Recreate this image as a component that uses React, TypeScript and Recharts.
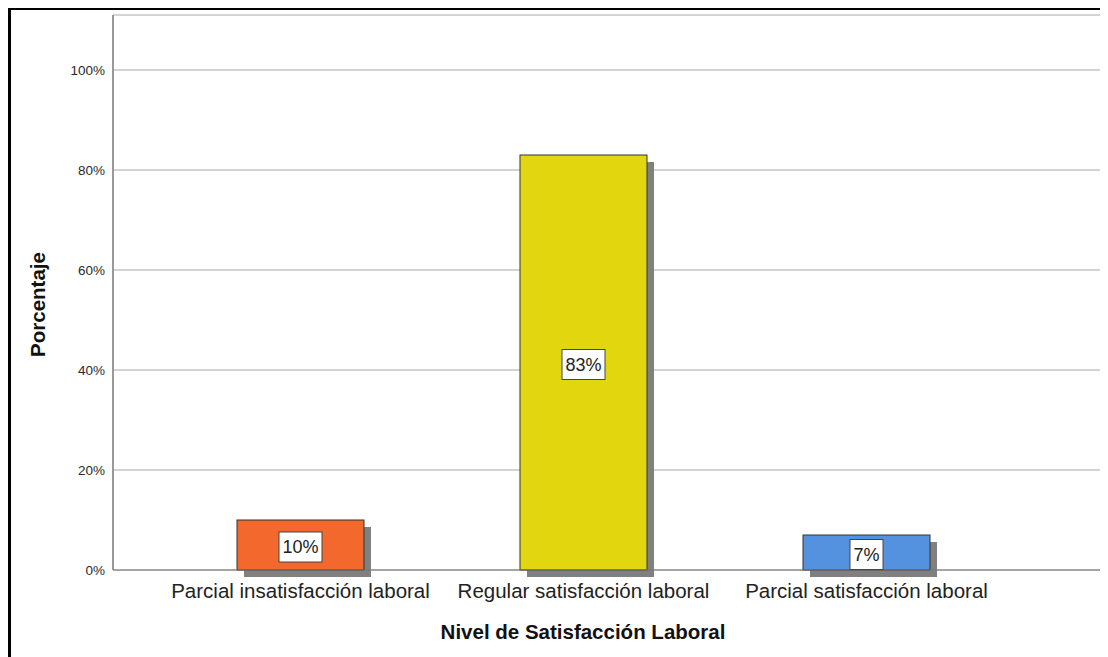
import { BarChart, Bar, XAxis, YAxis, CartesianGrid, Cell, LabelList, Label } from 'recharts';

// Nivel de satisfacción laboral, porcentaje de encuestados
const categories = ['Parcial insatisfacción laboral', 'Regular satisfacción laboral', 'Parcial satisfacción laboral'];
const percentages = [10, 83, 7];
const barColors = ['#F2682D', '#E2D70F', '#5492DF'];
const yTicks = [0, 20, 40, 60, 80, 100];

const data = categories.map((name, i) => ({ name, value: percentages[i] }));

const FONT = '"Liberation Sans", Arial, sans-serif';
const SHADOW = 7;

// bar with a flat grey drop shadow behind it
const ShadowBar = (props: any) => {
  const { x, y, width, height, fill } = props;
  return (
    <g>
      <rect x={x + SHADOW} y={y + SHADOW} width={width} height={height} fill="#808080" />
      <rect x={x} y={y} width={width} height={height} fill={fill} stroke="#333" strokeWidth={1} />
    </g>
  );
};

// boxed percentage label in the middle of each bar
const BoxLabel = (props: any) => {
  const { x, y, width, height, value } = props;
  const text = `${Math.round(value)}%`;
  const w = 13 + 10 * text.length;
  const h = 30;
  const cx = x + width / 2;
  const cy = y + height / 2 + 2;
  return (
    <g>
      <rect x={cx - w / 2} y={cy - h / 2} width={w} height={h} fill="#fff" stroke="#444" strokeWidth={1} />
      <text x={cx} y={cy + 6} textAnchor="middle" fontSize={18} fontFamily={FONT} fill="#222">
        {text}
      </text>
    </g>
  );
};

const YTitle = (props: any) => {
  const { viewBox } = props;
  const x = 45 - 11;
  const y = viewBox.y + viewBox.height / 2 + 12;
  return (
    <text
      x={x}
      y={y}
      transform={`rotate(-90, ${x}, ${y})`}
      textAnchor="middle"
      fontSize={20.5}
      fontWeight="bold"
      fontFamily={FONT}
      fill="#111"
    >
      Porcentaje
    </text>
  );
};

const XTitle = () => (
  <text x={583 - 11} y={639 - 10} textAnchor="middle" fontSize={20.5} fontWeight="bold" fontFamily={FONT} fill="#111">
    Nivel de Satisfacción Laboral
  </text>
);

export default function App() {
  return (
    <div
      style={{
        width: 1097,
        height: 647,
        borderTop: '2px solid #000',
        borderLeft: '3px solid #000',
        background: '#fff',
      }}
    >
      <BarChart width={1097} height={647} data={data} margin={{ top: 5, right: 4, left: 0, bottom: 0 }}>
        <CartesianGrid vertical={false} stroke="#c4c4c4" strokeWidth={1.5} />
        <YAxis
          domain={[0, 111]}
          ticks={yTicks}
          width={102}
          tickFormatter={(v: number) => `${v}%`}
          tick={{ fontSize: 13.5, fontFamily: FONT, fill: '#2a2a2a' }}
          tickLine={false}
          tickSize={0}
          tickMargin={8}
          axisLine={{ stroke: '#999', strokeWidth: 2 }}
        >
          <Label content={YTitle} />
        </YAxis>
        <XAxis
          dataKey="name"
          height={87}
          padding={{ left: 46, right: 96 }}
          tick={{ fontSize: 20.5, fontFamily: FONT, fill: '#222' }}
          tickLine={false}
          tickSize={0}
          tickMargin={13}
          axisLine={{ stroke: '#777', strokeWidth: 1 }}
        >
          <Label content={XTitle} />
        </XAxis>
        <Bar dataKey="value" barSize={127} shape={ShadowBar} isAnimationActive={false}>
          {data.map((d, i) => (
            <Cell key={d.name} fill={barColors[i]} />
          ))}
          <LabelList dataKey="value" content={BoxLabel} />
        </Bar>
      </BarChart>
    </div>
  );
}
